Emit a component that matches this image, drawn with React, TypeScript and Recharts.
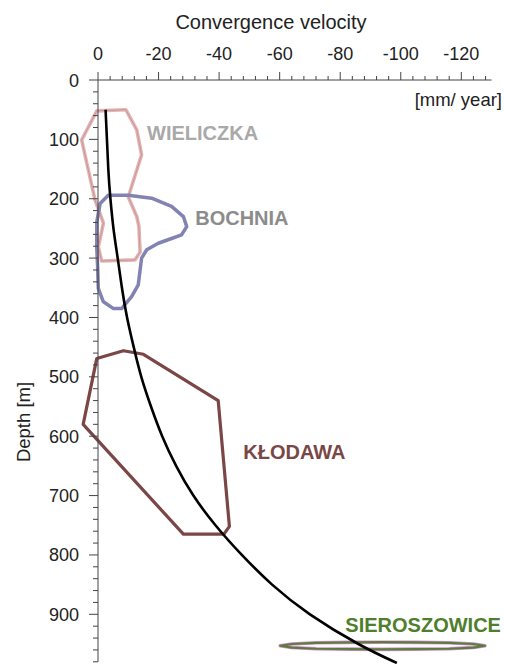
import React from "react";
import { ComposedChart, Line, XAxis, YAxis, ReferenceDot } from "recharts";

// trend curve: depth [m] vs convergence velocity [mm/year]
const curveDepth = [50, 150, 200, 250, 300, 350, 400, 450, 500, 550, 600, 650, 700, 750, 800, 850, 900, 950, 982];
const curveVel = [-2.5, -3.4, -4.1, -5.1, -6.5, -7.9, -9.6, -11.8, -14.3, -17.5, -21.2, -25.8, -31.5, -38.8, -47.5, -57.5, -70, -86, -98.7];

// mine outlines (closed)
const wieliczkaVel = [0.4, -9.2, -12.8, -14.4, -10.0, -12.8, -13.5, -13.9, -12.2, -1.2, -0.1, -1.8, 1.0, 5.4];
const wieliczkaDepth = [52, 50, 84, 126, 197, 230, 246, 290, 303, 305, 281, 241, 202, 101];

const bochniaVel = [-3.4, -10.0, -17.7, -24.3, -28.2, -29.3, -27.6, -24.3, -19.9, -16.1, -14.4, -13.9, -13.3, -11.1, -7.8, -5.1, -1.7, -0.1, 0.1, 0.4, 0.4, -0.7];
const bochniaDepth = [194, 194, 199, 213, 230, 247, 261, 267, 275, 286, 300, 320, 345, 365, 385, 385, 373, 351, 317, 284, 239, 208];

const klodawaVel = [0.4, -8.4, -15.0, -39.7, -43.4, -41.6, -28.2, 4.9];
const klodawaDepth = [469, 456, 462, 540, 752, 765, 765, 580];

const sieroVel = [-60.2, -64, -72, -83, -94, -105, -116, -124, -127.8, -124, -116, -105, -94, -83, -72, -64];
const sieroDepth = [953, 950, 948, 947.3, 947, 947.3, 948, 950, 953, 956, 958, 958.7, 959, 958.7, 958, 956];

// mine names
const mineNames = ["WIELICZKA", "BOCHNIA", "KŁODAWA", "SIEROSZOWICE"];
const nameVel = [-16.2, -32.1, -48, -81.7];
const nameDepth = [101, 244, 639, 929];
const nameColors = ["#a9a9a9", "#8c8c8c", "#7a4747", "#4f7f2c"];

// axis ticks
const xMajor = [0, -20, -40, -60, -80, -100, -120];
const yMajor = [0, 100, 200, 300, 400, 500, 600, 700, 800, 900];
const xMinorStep = 4;
const yMinorStep = 20;
const xTicks = Array.from({ length: 33 }, (_, i) => -i * xMinorStep);
const yTicks = Array.from({ length: 50 }, (_, i) => i * yMinorStep);

const toPoints = (vel: number[], depth: number[]) =>
  vel.map((v, i) => ({ v, d: depth[i] }));

const curve = toPoints(curveVel, curveDepth);
const wieliczka = toPoints(wieliczkaVel, wieliczkaDepth);
const bochnia = toPoints(bochniaVel, bochniaDepth);
const klodawa = toPoints(klodawaVel, klodawaDepth);
const sieroszowice = toPoints(sieroVel, sieroDepth);

const FONT = "'Liberation Sans', Arial, sans-serif";
const AXIS = "#444";

const XTick = (props: any) => {
  const { x, y, payload } = props;
  const major = xMajor.includes(payload.value);
  return (
    <g>
      <line x1={x} y1={y} x2={x} y2={y - (major ? 8 : 4)} stroke={AXIS} />
      {major && (
        <text x={x} y={y - 20} textAnchor="middle" fontSize={18} fill="#222" fontFamily={FONT}>
          {payload.value}
        </text>
      )}
    </g>
  );
};

const YTick = (props: any) => {
  const { x, y, payload } = props;
  const major = yMajor.includes(payload.value);
  return (
    <g>
      <line x1={x} y1={y} x2={x - (major ? 9 : 5)} y2={y} stroke={AXIS} />
      {major && (
        <text x={x - 19} y={y + 6.5} textAnchor="end" fontSize={18} fill="#222" fontFamily={FONT}>
          {payload.value}
        </text>
      )}
    </g>
  );
};

export default function App() {
  return (
    <div
      style={{
        position: "absolute",
        left: 0,
        top: 0,
        width: 505,
        height: 664,
        background: "#fff",
        fontFamily: FONT,
      }}
    >
      {/* outlines spill past the axes in the original, so no clipping */}
      <style>{`.recharts-surface [clip-path] { clip-path: none !important; }`}</style>
      <ComposedChart
        width={505}
        height={664}
        margin={{ top: 50, right: 13.4, bottom: 2.2, left: 38 }}
      >
        <XAxis
          type="number"
          dataKey="v"
          orientation="top"
          domain={[-130, 0]}
          reversed
          allowDataOverflow
          ticks={xTicks}
          interval={0}
          height={30}
          tickSize={0}
          tickMargin={0}
          tickLine={false}
          axisLine={{ stroke: AXIS }}
          tick={<XTick />}
        />
        <YAxis
          type="number"
          domain={[0, 980]}
          reversed
          allowDataOverflow
          ticks={yTicks}
          interval={0}
          width={60}
          tickSize={0}
          tickMargin={0}
          tickLine={false}
          axisLine={{ stroke: AXIS }}
          tick={<YTick />}
        />

        <Line data={wieliczka} dataKey="d" type="linearClosed" stroke="#e2b6b6" strokeWidth={3.6}
          strokeLinejoin="round" dot={false} activeDot={false} isAnimationActive={false} />
        <Line data={wieliczka} dataKey="d" type="linearClosed" stroke="#c98a8a" strokeWidth={0.8}
          strokeLinejoin="round" dot={false} activeDot={false} isAnimationActive={false} />
        <Line data={bochnia} dataKey="d" type="linearClosed" stroke="#8383b3" strokeWidth={3.5}
          strokeLinejoin="round" dot={false} activeDot={false} isAnimationActive={false} />
        <Line data={klodawa} dataKey="d" type="linearClosed" stroke="#7b4646" strokeWidth={3.2}
          strokeLinejoin="round" dot={false} activeDot={false} isAnimationActive={false} />
        <Line data={sieroszowice} dataKey="d" type="linearClosed" stroke="#d88ed8" strokeWidth={3.6}
          strokeLinejoin="round" dot={false} activeDot={false} isAnimationActive={false} />
        <Line data={sieroszowice} dataKey="d" type="linearClosed" stroke="#5b7f3a" strokeWidth={2.2}
          strokeLinejoin="round" dot={false} activeDot={false} isAnimationActive={false} />
        <Line data={curve} dataKey="d" type="natural" stroke="#000" strokeWidth={2.6}
          dot={false} activeDot={false} isAnimationActive={false} />

        {mineNames.map((name, i) => (
          <ReferenceDot
            key={name}
            x={nameVel[i]}
            y={nameDepth[i]}
            r={1}
            ifOverflow="visible"
            shape={(p: any) => (
              <text x={p.cx} y={p.cy} fontSize={20} fontWeight="bold" fill={nameColors[i]} fontFamily={FONT}>
                {name}
              </text>
            )}
          />
        ))}
      </ComposedChart>

      <svg
        width={505}
        height={664}
        style={{ position: "absolute", left: 0, top: 0, pointerEvents: "none" }}
      >
        <text x={271} y={29} textAnchor="middle" fontSize={20} fill="#222" fontFamily={FONT}>
          Convergence velocity
        </text>
        <text x={502} y={106} textAnchor="end" fontSize={18.5} fill="#222" fontFamily={FONT}>
          [mm/ year]
        </text>
        <text
          x={23}
          y={422}
          textAnchor="middle"
          dominantBaseline="central"
          transform="rotate(-90 23 422)"
          fontSize={18.5}
          fill="#222"
          fontFamily={FONT}
        >
          Depth [m]
        </text>
      </svg>
    </div>
  );
}
